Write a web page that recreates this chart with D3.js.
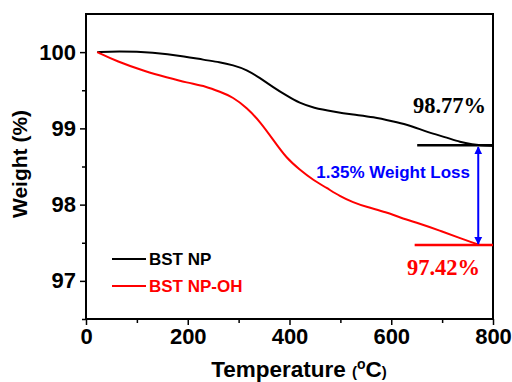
<!DOCTYPE html>
<html><head><meta charset="utf-8">
<script src="https://cdn.jsdelivr.net/npm/d3@7"></script>
<style>body{margin:0;background:#fff}svg{display:block}</style>
</head><body>
<script>
const bstT = [22, 60, 132, 198, 230, 263, 289, 316, 342, 368, 394, 420, 447, 486, 525, 565, 604, 630, 656, 682, 709, 735, 761, 774, 800];
const bstW = [100.0, 100.01, 100.0, 99.94, 99.9, 99.87, 99.83, 99.77, 99.66, 99.54, 99.43, 99.33, 99.27, 99.22, 99.18, 99.15, 99.09, 99.05, 98.99, 98.93, 98.88, 98.82, 98.79, 98.78, 98.77];
const ohT = [22, 60, 119, 158, 198, 237, 263, 289, 316, 342, 368, 394, 420, 447, 473, 499, 525, 551, 591, 617, 656, 695, 735, 761, 774];
const ohW = [100.0, 99.88, 99.74, 99.67, 99.6, 99.55, 99.48, 99.41, 99.27, 99.09, 98.85, 98.61, 98.46, 98.32, 98.22, 98.11, 98.03, 97.97, 97.9, 97.83, 97.75, 97.66, 97.56, 97.5, 97.47];
const xTicks = [0, 200, 400, 600, 800];
const yTicks = [97, 98, 99, 100];
const seriesNames = ["BST NP", "BST NP-OH"];
const seriesColors = ["#000", "#ff0000"];
const refVals = [98.78, 97.47];
const refStart = [651, 646];
const refLabels = ["98.77%", "97.42%"];
const arrowT = 771;
const lossLabel = "1.35% Weight Loss";

const W = 512, H = 382;
const m = {l: 86, r: 19, t: 14, b: 63};
const svg = d3.select("body").append("svg").attr("width", W).attr("height", H);
const x = d3.scaleLinear().domain([0, 800]).range([m.l, W - m.r]);
const y = d3.scaleLinear().domain([96.5, 100.5]).range([H - m.b, m.t]);

const font = "Arial, 'Liberation Sans', sans-serif";

svg.append("rect").attr("x", x(0)).attr("y", y(100.5)).attr("width", x(800) - x(0)).attr("height", y(96.5) - y(100.5))
  .attr("fill", "none").attr("stroke", "#000").attr("stroke-width", 2);

const xa = svg.append("g").attr("transform", `translate(0,${y(96.5)})`)
  .call(d3.axisBottom(x).tickValues(xTicks).tickSize(6).tickPadding(3).tickFormat(d3.format("d")));
svg.append("g").attr("transform", `translate(0,${y(96.5)})`)
  .call(d3.axisBottom(x).tickValues([100, 300, 500, 700]).tickSize(4).tickFormat(""))
  .call(g => g.select(".domain").remove());
const ya = svg.append("g").attr("transform", `translate(${x(0)},0)`)
  .call(d3.axisLeft(y).tickValues(yTicks).tickSize(6).tickPadding(4).tickFormat(d3.format("d")));
svg.append("g").attr("transform", `translate(${x(0)},0)`)
  .call(d3.axisLeft(y).tickValues([96.5, 97.5, 98.5, 99.5]).tickSize(4).tickFormat(""))
  .call(g => g.select(".domain").remove());
svg.selectAll(".domain").remove();
svg.selectAll(".tick line").attr("stroke", "#000").attr("stroke-width", 1.5);
xa.selectAll("text").attr("font-family", font).attr("font-weight", "bold").attr("font-size", 22).attr("fill", "#000");
ya.selectAll("text").attr("font-family", font).attr("font-weight", "bold").attr("font-size", 22).attr("fill", "#000");

const xt = svg.append("text").attr("x", 299).attr("y", 377).attr("text-anchor", "middle")
  .attr("font-family", font).attr("font-weight", "bold").attr("font-size", 22.5);
xt.append("tspan").text("Temperature ");
xt.append("tspan").attr("font-size", 15).text("(");
xt.append("tspan").attr("font-size", 14).attr("dy", -8).text("o");
xt.append("tspan").attr("dy", 8).text("C");
xt.append("tspan").attr("font-size", 15).text(")");
svg.append("text").attr("transform", "translate(27,164) rotate(-90)").attr("text-anchor", "middle")
  .attr("font-family", font).attr("font-weight", "bold").attr("font-size", 21).text("Weight (%)");

const line = d3.line().x(d => x(d[0])).y(d => y(d[1])).curve(d3.curveBasis);
const data = [bstT.map((t, i) => [t, bstW[i]]), ohT.map((t, i) => [t, ohW[i]])];
data.forEach((d, i) => {
  svg.append("path").datum(d).attr("d", line).attr("fill", "none").attr("stroke", seriesColors[i]).attr("stroke-width", 2);
});

refVals.forEach((v, i) => {
  svg.append("line").attr("x1", x(refStart[i])).attr("x2", x(800)).attr("y1", y(v)).attr("y2", y(v))
    .attr("stroke", seriesColors[i]).attr("stroke-width", 2.5);
});
const serif = "'Liberation Serif', 'Times New Roman', serif";
svg.append("text").attr("x", 486).attr("y", 113).attr("text-anchor", "end")
  .attr("font-family", serif).attr("font-weight", "bold").attr("font-size", 22.5)
  .attr("fill", seriesColors[0]).text(refLabels[0]);
svg.append("text").attr("x", 480).attr("y", 275).attr("text-anchor", "end")
  .attr("font-family", serif).attr("font-weight", "bold").attr("font-size", 22.5)
  .attr("fill", seriesColors[1]).text(refLabels[1]);

const defs = svg.append("defs");
defs.append("marker").attr("id", "ah").attr("viewBox", "0 0 10 10").attr("refX", 9).attr("refY", 5)
  .attr("markerWidth", 4).attr("markerHeight", 5).attr("markerUnits", "strokeWidth").attr("orient", "auto-start-reverse")
  .append("path").attr("d", "M0,0L10,5L0,10Z").attr("fill", "#0000ff");
svg.append("line").attr("x1", x(arrowT)).attr("x2", x(arrowT)).attr("y1", y(refVals[0]) + 2).attr("y2", y(refVals[1]) - 1)
  .attr("stroke", "#0000ff").attr("stroke-width", 2)
  .attr("marker-start", "url(#ah)").attr("marker-end", "url(#ah)");
svg.append("text").attr("x", 470).attr("y", 178).attr("text-anchor", "end")
  .attr("font-family", font).attr("font-weight", "bold").attr("font-size", 17).attr("fill", "#0000ff").text(lossLabel);

seriesNames.forEach((n, i) => {
  const ly = 259 + i * 27;
  svg.append("line").attr("x1", 112).attr("x2", 146).attr("y1", ly).attr("y2", ly).attr("stroke", seriesColors[i]).attr("stroke-width", 2);
  svg.append("text").attr("x", 149).attr("y", ly + 6).attr("font-family", font).attr("font-weight", "bold")
    .attr("font-size", 17).attr("fill", seriesColors[i]).text(n);
});
</script>
</body></html>
